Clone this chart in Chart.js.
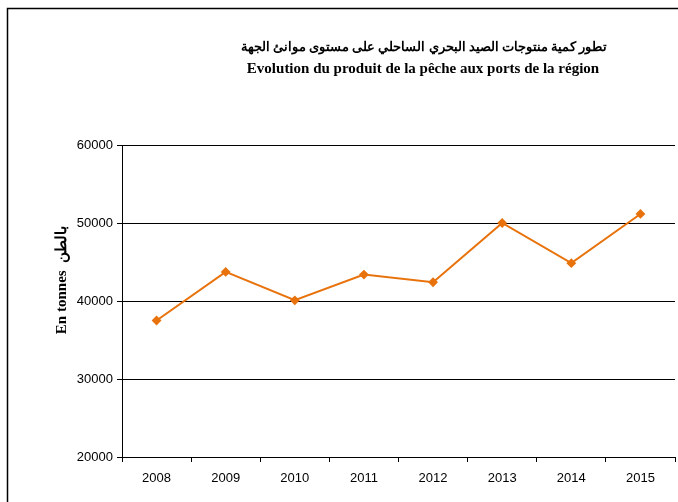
<!DOCTYPE html>
<html>
<head>
<meta charset="utf-8">
<script src="https://cdn.jsdelivr.net/npm/chart.js@4"></script>
<style>
  body { margin: 0; background: #fff; }
  canvas { display: block; }
</style>
</head>
<body>
<canvas id="peche" width="678" height="502"></canvas>
<script>
// Données
const annees = ["2008", "2009", "2010", "2011", "2012", "2013", "2014", "2015"];
const tonnes = [37500, 43730, 40090, 43390, 42400, 50000, 44850, 51160];
const titreAr = "تطور كمية منتوجات الصيد البحري الساحلي على مستوى موانئ الجهة";
const titreFr = "Evolution du produit de la pêche aux ports de la région";
const titreAxe = "En tonnes  بالطن";

// cadre + titres dessinés à la main
const decor = {
  id: "decor",
  beforeDraw(chart) {
    const ctx = chart.ctx;
    ctx.save();
    ctx.fillStyle = "#fff";
    ctx.fillRect(0, 0, chart.width, chart.height);
    ctx.strokeStyle = "#000";
    ctx.lineWidth = 1.5;
    ctx.beginPath();
    ctx.moveTo(7.5, chart.height);
    ctx.lineTo(7.5, 8.5);
    ctx.lineTo(chart.width, 8.5);
    ctx.stroke();
    ctx.restore();
  },
  afterDraw(chart) {
    const ctx = chart.ctx;
    ctx.save();
    ctx.fillStyle = "#000";
    ctx.textAlign = "center";
    ctx.textBaseline = "middle";
    ctx.font = "bold 12.8px 'Liberation Serif', 'DejaVu Serif', serif";
    ctx.fillText(titreAr, 424, 48);
    ctx.font = "bold 15px 'Liberation Serif', 'DejaVu Serif', serif";
    ctx.fillText(titreFr, 423, 69);
    // titre de l'axe Y
    ctx.translate(62, 280);
    ctx.rotate(-Math.PI / 2);
    ctx.fillText(titreAxe, 0, 0);
    ctx.restore();
  }
};

new Chart(document.getElementById("peche"), {
  type: "line",
  data: {
    labels: annees,
    datasets: [{
      data: tonnes,
      borderColor: "#e8720c",
      backgroundColor: "#e8720c",
      borderWidth: 2,
      pointStyle: "rectRot",
      pointRadius: 3.5,
      pointHoverRadius: 3.5,
      tension: 0
    }]
  },
  options: {
    responsive: false,
    animation: false,
    layout: { autoPadding: false, padding: { top: 145, right: 3, left: 0, bottom: 0 } },
    plugins: {
      legend: { display: false },
      tooltip: { enabled: false }
    },
    scales: {
      x: {
        offset: true,
        grid: { drawOnChartArea: false, color: "#000", tickLength: 5, offset: true },
        border: { color: "#000", width: 1 },
        ticks: { color: "#000", font: { family: "'Liberation Sans', Arial, sans-serif", size: 13 }, padding: 9, maxRotation: 0 },
        afterFit(scale) { scale.height = 45; }
      },
      y: {
        min: 20000,
        max: 60000,
        ticks: {
          stepSize: 10000, color: "#000", padding: 4,
          font: { family: "'Liberation Sans', Arial, sans-serif", size: 13 },
          callback: v => String(v)
        },
        grid: { color: "#000", lineWidth: 1, tickLength: 5 },
        border: { color: "#000", width: 1 },
        afterFit(scale) { scale.width = 122; }
      }
    }
  },
  plugins: [decor]
});
</script>
</body>
</html>
